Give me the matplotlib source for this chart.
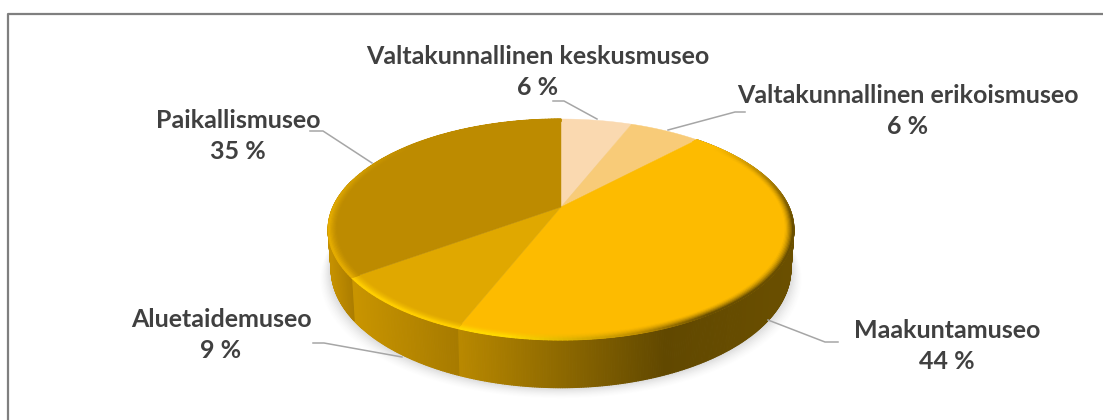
# -*- coding: utf-8 -*-
import numpy as np
import matplotlib
matplotlib.use("Agg")
import matplotlib.pyplot as plt
from matplotlib.collections import PolyCollection
from matplotlib.colors import to_rgb
from matplotlib.patches import Polygon

# data
categories = ["Valtakunnallinen keskusmuseo", "Valtakunnallinen erikoismuseo",
              "Maakuntamuseo", "Aluetaidemuseo", "Paikallismuseo"]
values = [6, 6, 44, 9, 35]
top_colors = ["#FAD9B0", "#F8CB78", "#FDBB00", "#E0A800", "#BD8B00"]

# label centre (px) and leader line (px), in the order of categories
label_pos = [(538, 72), (908, 111), (947, 346), (221, 335), (238, 136)]
leaders = [
    [(553, 101), (564, 101), (597, 119)],
    [(745, 112), (735, 112), (668, 130)],
    [(838, 342), (825, 342), (768, 320)],
    [(313, 343), (324, 343), (402, 357)],
    [(310, 131), (323, 131), (372, 163)],
]

W, H = 1103, 420
CX, CY = 561, 207                # apex of the slices
A, B, K = 228.0, 105.9, 0.2036   # perspective of the disc
DEPTH = 38.0
RING = 0.965                     # inner radius of the bevel


def rim(theta, r=1.0):
    """theta clockwise from 12 o'clock -> pixel position on the disc."""
    u, v = r * np.sin(theta), r * np.cos(theta)
    w = 1 + K * v
    return CX + A * u / w, CY - B * v / w


def rim_low(theta):
    x, y = rim(theta)
    return CX + (x - CX) * 0.987, y + DEPTH / (1 + K * np.cos(theta))


def mix(c1, c2, t):
    c1, c2 = np.array(to_rgb(c1)), np.array(to_rgb(c2))
    return tuple(c1 + (c2 - c1) * np.clip(t, 0, 1))


def wall_color(x, idx):
    """Colour of the side wall, darkens to the right."""
    if idx == 2:
        if x < 665:
            return mix("#B88800", "#614800", (x - 460) / 205)
        return mix("#614800", "#6A4F00", (x - 665) / 125)
    if idx == 3:
        return mix("#C89400", "#A67A00", (x - 355) / 105)
    return mix("#C49000", "#A87A00", (x - 330) / 25)


def edge_color(theta, x, idx):
    """Colour at the very edge of the bevel."""
    if idx == 2:
        if x < 510:
            c = "#FFD800"
        elif x < 640:
            c = mix("#FFD800", "#C08E00", (x - 510) / 130)
        else:
            c = mix("#C08E00", "#6A4F00", (x - 640) / 70)
        return mix(top_colors[2], c, (theta - np.radians(50)) / np.radians(45))
    if idx == 3:
        return to_rgb("#FFCE00")
    return mix("#E4AC00", top_colors[4], (theta - np.radians(262)) / np.radians(50))


def mesh(quads, colors, zorder):
    ax.add_collection(PolyCollection(quads, facecolors=colors, edgecolors=colors,
                                     linewidths=0.8, zorder=zorder))


fig = plt.figure(figsize=(W / 100, H / 100), dpi=100)
ax = fig.add_axes([0, 0, 1, 1])
ax.set_xlim(0, W)
ax.set_ylim(H, 0)
ax.axis("off")

# frame: only the left and top edges are inside the picture
ax.plot([8, 8, W], [H, 14, 14], color="#7F7F7F", lw=1.6, zorder=0)

cum = np.cumsum([0] + values) / sum(values) * 2 * np.pi

# soft shadow
t = np.linspace(0, 2 * np.pi, 240)
xs, ys = rim_low(t)
for off, al in zip(np.arange(14, 0, -1.5), np.linspace(0.012, 0.05, 10)):
    ax.add_patch(Polygon(np.c_[CX + (xs - CX) * (1 + off / 300), ys + off * 0.75],
                         fc="#808080", ec="none", alpha=al, zorder=1))

# side walls
for i in range(2, len(values)):
    a0, a1 = cum[i], min(cum[i + 1], np.radians(285))
    th = np.linspace(a0, a1, int((a1 - a0) * 120) + 2)
    quads, cols = [], []
    for p, q in zip(th[:-1], th[1:]):
        quads.append([rim(p), rim(q), rim_low(q), rim_low(p)])
        cols.append(wall_color((rim(p)[0] + rim(q)[0]) / 2, i))
    mesh(quads, cols, 2)

# top of the disc
for i, col in enumerate(top_colors):
    th = np.linspace(cum[i], cum[i + 1], 90)
    xs, ys = rim(th)
    ax.add_patch(Polygon(np.r_[[(CX, CY)], np.c_[xs, ys]], fc=col, ec=col, lw=0.3, zorder=3))

# bevel along the rim
radii = np.linspace(RING, 1.0, 8)
for i in range(2, len(values)):
    th = np.linspace(cum[i], cum[i + 1], int((cum[i + 1] - cum[i]) * 60) + 2)
    quads, cols = [], []
    for r0, r1 in zip(radii[:-1], radii[1:]):
        f = ((r1 - RING) / (1 - RING)) ** 1.5
        for p, q in zip(th[:-1], th[1:]):
            quads.append([rim(p, r0), rim(q, r0), rim(q, r1), rim(p, r1)])
            cols.append(mix(top_colors[i], edge_color(p, rim(p)[0], i), f))
    mesh(quads, cols, 4)

# leader lines and labels
for pts in leaders:
    ax.plot(*zip(*pts), color="#A6A6A6", lw=1.1, zorder=5)
for name, val, (lx, ly) in zip(categories, values, label_pos):
    ax.text(lx, ly, f"{name}\n{val} %", ha="center", va="center", fontsize=18,
            fontweight="bold", family=["Lato", "DejaVu Sans"], color="#404040",
            linespacing=1.42, zorder=6)

fig.savefig("out.png", dpi=100)
